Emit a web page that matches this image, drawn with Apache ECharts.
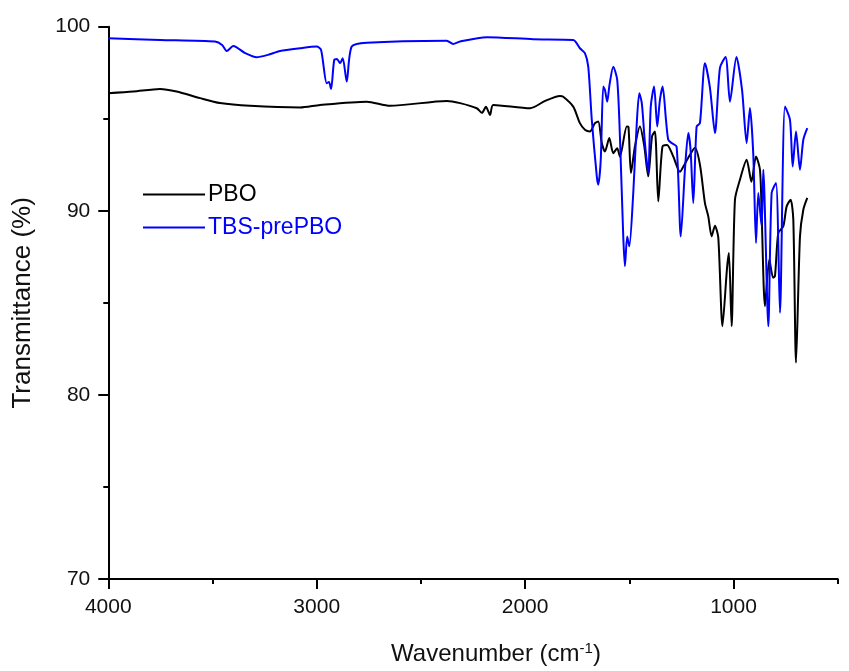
<!DOCTYPE html>
<html>
<head>
<meta charset="utf-8">
<script src="https://cdn.jsdelivr.net/npm/echarts@6/dist/echarts.min.js"></script>
<style>
html,body{margin:0;padding:0;background:#fff;}
#chart{width:849px;height:671px;}
</style>
</head>
<body>
<div id="chart"></div>
<script>
// ---- data ----
const seriesNames = ['PBO', 'TBS-prePBO'];
const xMajorTicks = [1000, 2000, 3000, 4000];
const xMinorTicks = [500, 1500, 2500, 3500];

const wnPBO = [4000,3880,3752,3672,3560,3464,3320,3080,2984,2760,2648,2376,2312,2232,2207,2188,2168,2153,1976,1904,1833,1817,1769,1737,1713,1689,1665,1649,1632,1617,1596,1577,1558,1545,1512,1504,1492,1473,1449,1429,1409,1391,1377,1361,1341,1319,1289,1257,1233,1209,1185,1161,1137,1121,1105,1089,1073,1053,1031,1022,1009,993,969,937,914,892,873,865,849,828,810,801,785,761,745,726,713,700,681,665,646];
const tPBO = [96.39,96.48,96.62,96.48,96.12,95.85,95.70,95.61,95.75,95.93,95.70,95.97,95.85,95.57,95.32,95.65,95.21,95.75,95.57,95.97,96.24,96.20,95.66,94.76,94.40,94.31,94.76,94.85,93.68,93.22,93.95,93.13,93.40,92.95,94.58,94.56,92.05,93.49,94.58,93.58,91.87,94.04,94.31,90.51,93.49,93.58,92.95,92.12,92.56,93.04,93.42,92.50,90.42,89.70,88.61,89.19,88.54,83.73,86.90,87.71,83.73,90.60,91.69,92.77,91.58,92.95,92.23,89.88,84.82,87.35,86.37,86.45,88.80,89.16,90.24,90.60,89.52,81.75,88.61,90.06,90.70];

const wnTBS = [4000,3752,3488,3454,3432,3400,3344,3288,3234,3176,3080,3000,2979,2952,2941,2931,2916,2903,2888,2875,2856,2832,2760,2376,2345,2312,2184,1961,1769,1737,1713,1697,1680,1656,1649,1637,1625,1617,1606,1595,1577,1558,1545,1529,1521,1510,1500,1481,1465,1452,1440,1425,1409,1397,1381,1366,1353,1340,1324,1313,1297,1273,1253,1233,1217,1206,1193,1177,1161,1137,1113,1089,1065,1038,1017,986,959,937,921,905,892,881,865,857,833,817,796,777,753,729,716,700,681,665,646];
const tTBS = [99.37,99.28,99.19,99.01,98.68,98.95,98.57,98.34,98.47,98.68,98.83,98.92,98.74,96.93,97.00,96.61,98.19,98.25,98.02,98.29,97.02,98.92,99.13,99.24,99.06,99.20,99.43,99.32,99.28,98.83,98.56,97.83,94.94,91.87,91.42,92.77,96.75,96.57,95.93,96.84,97.83,97.11,94.04,88.61,86.99,88.61,88.07,90.97,94.58,96.39,95.85,93.68,92.05,95.66,96.75,94.58,96.03,96.75,94.94,93.86,93.68,93.49,88.61,92.23,94.22,93.31,90.42,94.58,94.76,98.02,96.68,94.22,97.76,98.36,95.93,98.36,96.57,93.68,95.58,93.04,88.25,90.97,89.16,92.23,83.73,90.97,91.51,84.46,95.66,94.94,92.41,94.31,92.23,93.86,94.49];

function pairs(xs, ys) { return xs.map((x, i) => [x, ys[i]]); }

const chart = echarts.init(document.getElementById('chart'), null, {renderer: 'canvas'});
const FONT = 'Liberation Sans, Arial, sans-serif';
const axisColor = '#000';

chart.setOption({
  animation: false,
  backgroundColor: '#fff',
  grid: {left: 108.3, right: 11.3, top: 26.7, bottom: 91, containLabel: false},
  legend: {
    orient: 'vertical',
    left: 138,
    top: 178,
    icon: 'rect',
    itemWidth: 62,
    itemHeight: 2,
    itemGap: 10,
    itemStyle: {borderWidth: 0},
    textStyle: {fontFamily: FONT, fontSize: 23, lineHeight: 23, padding: [0, 0, 0, -2]},
    data: [
      {name: seriesNames[0], textStyle: {color: '#000'}},
      {name: seriesNames[1], textStyle: {color: '#0000ff'}}
    ]
  },
  xAxis: [{
    type: 'value',
    inverse: true,
    min: 500,
    max: 4000,
    interval: 500,
    name: 'Wavenumber (cm{sup|-1})',
    nameLocation: 'middle',
    nameGap: 62,
    nameTextStyle: {
      fontFamily: FONT, fontSize: 24, color: '#111', padding: [0, 0, 0, 46],
      rich: {sup: {fontFamily: FONT, fontSize: 15, color: '#111', verticalAlign: 'top', padding: [0, 0, 11, 0]}}
    },
    axisLine: {show: true, lineStyle: {color: axisColor, width: 2}},
    axisTick: {show: true, customValues: xMajorTicks, length: 10, lineStyle: {color: axisColor, width: 2}},
    axisLabel: {show: true, customValues: xMajorTicks, margin: 18, fontFamily: FONT, fontSize: 21, color: '#111',
      formatter: function (v) { return String(v); }},
    splitLine: {show: false}
  }, {
    type: 'value',
    inverse: true,
    min: 500,
    max: 4000,
    interval: 500,
    position: 'bottom',
    axisLine: {show: false},
    axisTick: {show: true, customValues: xMinorTicks, length: 5, lineStyle: {color: axisColor, width: 2}},
    axisLabel: {show: false},
    splitLine: {show: false}
  }],
  yAxis: {
    type: 'value',
    min: 70,
    max: 100,
    interval: 10,
    name: 'Transmittance (%)',
    nameLocation: 'middle',
    nameGap: 72,
    nameTextStyle: {fontFamily: FONT, fontSize: 26, color: '#111'},
    axisLine: {show: true, lineStyle: {color: axisColor, width: 2}},
    axisTick: {show: true, length: 10, lineStyle: {color: axisColor, width: 2}},
    minorTick: {show: true, splitNumber: 2, length: 5, lineStyle: {color: axisColor, width: 2}},
    axisLabel: {margin: 18, fontFamily: FONT, fontSize: 21, color: '#111'},
    splitLine: {show: false}
  },
  series: [{
    name: seriesNames[0],
    type: 'line',
    showSymbol: false,
    smooth: 0.25,
    data: pairs(wnPBO, tPBO),
    lineStyle: {color: '#000', width: 2},
    itemStyle: {color: '#000'},
    z: 2
  }, {
    name: seriesNames[1],
    type: 'line',
    showSymbol: false,
    smooth: 0.25,
    data: pairs(wnTBS, tTBS),
    lineStyle: {color: '#0000ff', width: 2},
    itemStyle: {color: '#0000ff'},
    z: 3
  }]
});
</script>
</body>
</html>
